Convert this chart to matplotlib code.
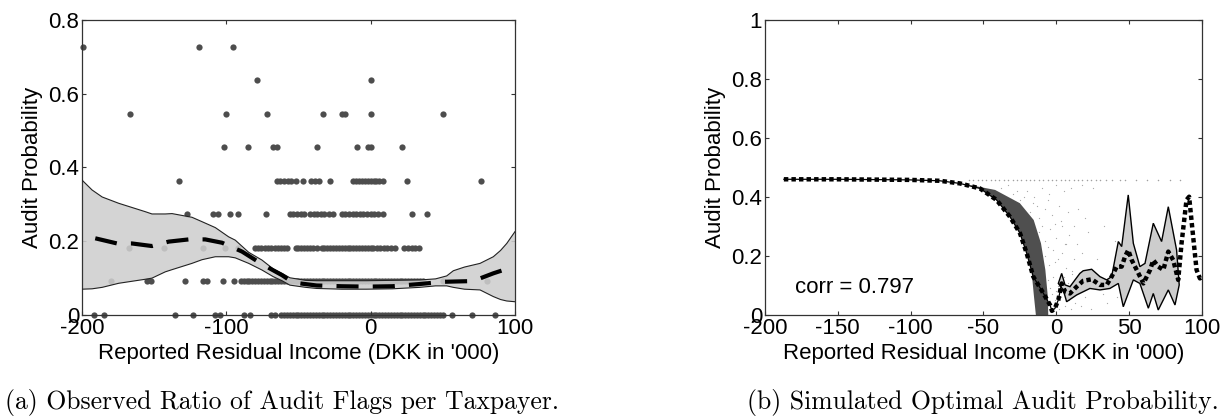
import matplotlib
matplotlib.use("Agg")
import matplotlib.pyplot as plt
import numpy as np

plt.rcParams['font.family'] = ['Liberation Sans', 'DejaVu Sans']
plt.rcParams['axes.unicode_minus'] = False

# ---- panel (a): observed audit-flag ratios, one list per level k/11 ----
row0 = [-191.5, -184.5, -135.6, -122.9, -107.8, -104.4, -88, -83.6, -69, -66, -62,
        -60, -58, -56, -54, -52, -50, -48, -46, -44, -42, -40, -38, -36, -34, -32, -30,
        -28, -26, -24, -22, -20, -18, -16, -14, -12, -10, -8, -6, -4, -2, 0, 2, 4, 6, 8,
        10, 12, 14, 16, 18, 20, 22, 24, 26, 28, 30, 32, 34, 36, 38, 40, 42, 44, 46, 48,
        50, 56.5, 70, 86.5]
row1 = [-179.7, -155, -152.5, -128.4, -116, -113.6, -102.5, -95,
        -90, -88, -86, -84, -82, -80, -78, -76, -74, -72, -70, -68, -66, -64, -62, -60,
        -58, -56, -54, -52, -50, -48, -46, -44, -42, -40, -38, -36, -34, -32, -30, -28,
        -26, -24, -22, -20, -18, -16, -14, -12, -10, -8, -6, -4, -2, 0, 2, 4, 6, 8, 10,
        12, 14, 16, 18, 20, 22, 24, 26, 28, 30, 32, 34, 36, 50, 80.4]
row2 = [-167.7, -143.4, -116.4, -100.7, -92,
        -80, -78, -76, -73, -71, -69, -66, -64, -62, -60, -58,
        -52, -50, -48, -46, -44, -42, -40, -37.5,
        -34, -32, -30, -28, -26, -24, -22, -20, -18, -16, -14, -12, -10, -8, -6, -4, -2, 0, 1.8,
        4.2, 6.5, 9, 11.5, 14, 17, 23.4, 26, 28.5, 31, 33.8]
row3 = [-127.3, -109, -105.5, -97.3, -92, -72.5,
        -56, -53.5, -51, -48.5, -46, -42, -39.5, -37, -34.5, -32, -29, -26,
        -20, -17.5, -15, -12.5, -10, -7.5, -5, -2.5, 0, 2.5, 5, 8.7, 28.8, 39.2]
row4 = [-133, -65, -62.5, -60, -57.5, -55, -52, -46.6, -41, -38.5, -36, -28,
        -12, -10, -8, -6, -4, -2, 0, 2, 4, 6, 8.7, 25.4, 76.5]
row5 = [-101.8, -85, -67.5, -65, -37, -9.3, -2, 0, 22]
row6 = [-166.5, -100.2, -72, -33.2, -19.5, -18, 0, 50]
row7 = [-78.8, 0]
row8 = [-199.5, -119, -95.6]
rows = [row0, row1, row2, row3, row4, row5, row6, row7, row8]

band_x = [-200, -193, -186, -174.6, -156, -151.5, -142.3, -137.6, -123.8, -116.8,
          -107.6, -98.4, -93.8, -84.5, -75.3, -67.5, -61.4, -56, -45, -37.4, -20, -2.8,
          15, 34, 45, 52.7, 57.3, 65, 75.8, 85, 90, 94.3, 100]
band_hi = [0.366, 0.339, 0.320, 0.303, 0.280, 0.274, 0.274, 0.275, 0.265, 0.253,
           0.237, 0.212, 0.203, 0.170, 0.149, 0.125, 0.113, 0.101, 0.094, 0.093, 0.093,
           0.093, 0.094, 0.095, 0.098, 0.106, 0.120, 0.130, 0.140, 0.158, 0.175, 0.194, 0.226]
band_lo = [0.070, 0.071, 0.075, 0.086, 0.097, 0.100, 0.117, 0.123, 0.140, 0.150,
           0.158, 0.158, 0.155, 0.140, 0.122, 0.104, 0.093, 0.081, 0.075, 0.072, 0.070,
           0.070, 0.071, 0.075, 0.079, 0.079, 0.075, 0.070, 0.068, 0.050, 0.042, 0.038, 0.036]
mean_x = [-190.8, -175.7, -165.4, -151.5, -139.9, -126, -114.6, -103, -89.1, -75.3,
          -61.4, -53.6, -37.4, -20, -2.8, 15, 34, 50.3, 60, 71, 85, 99]
mean_y = [0.208, 0.194, 0.194, 0.187, 0.199, 0.205, 0.205, 0.196, 0.172, 0.138,
          0.108, 0.088, 0.080, 0.078, 0.077, 0.078, 0.084, 0.090, 0.091, 0.092, 0.113, 0.131]

# ---- panel (b): simulated optimal audit probability ----
opt_x = [-187, -150, -100.5, -80, -66.1, -52.4, -41, -31.8, -24.9, -20.3, -15.8, -8.9,
         -4.3, -3, -1, 1.4, 3.7, 6, 9.4, 14, 18.5, 24.3, 30, 34.6, 38, 41.5, 44.9, 47.2,
         49.4, 51.8, 55.2, 59.8, 64.4, 66.6, 70, 73.5, 76.9, 80.3, 83.7, 86, 89.4, 91.2,
         93.5, 96.3, 98.6, 100]
opt_y = [0.46, 0.46, 0.458, 0.455, 0.446, 0.429, 0.39, 0.333, 0.277, 0.209, 0.130, 0.074,
         0.034, 0.014, 0.022, 0.051, 0.107, 0.079, 0.073, 0.096, 0.116, 0.121, 0.102, 0.102,
         0.130, 0.164, 0.164, 0.198, 0.220, 0.186, 0.153, 0.107, 0.153, 0.186, 0.164, 0.153,
         0.215, 0.186, 0.119, 0.243, 0.39, 0.401, 0.288, 0.153, 0.124, 0.13]

dark_x = [-62, -52.4, -41, -31.8, -24.9, -20.3, -17, -15.3, -14, -5.5, -5.8, -7.5,
          -10.5, -15.5, -25.0, -42.0, -62]
dark_y = [0.443, 0.429, 0.39, 0.333, 0.277, 0.209, 0.15, 0.062, 0.0, 0.0, 0.062, 0.153,
          0.243, 0.322, 0.379, 0.424, 0.443]

ci_x = [1.4, 3.7, 6, 9.4, 16.2, 18.5, 24.3, 30, 34.6, 38, 42.6, 44.9, 49.4, 52.9, 57.4,
        60.9, 66.6, 72.3, 76.9, 82.6, 84.4, 81.5, 76.9, 70, 66.6, 63.2, 57.4, 52.9, 46,
        42.6, 36.8, 30, 23.1, 14, 7.1, 4.8, 1.4]
ci_y = [0.107, 0.141, 0.102, 0.096, 0.141, 0.150, 0.155, 0.130, 0.119, 0.130, 0.249,
        0.232, 0.407, 0.243, 0.164, 0.175, 0.311, 0.249, 0.367, 0.220, 0.102, 0.034,
        0.085, 0.017, 0.073, 0.023, 0.107, 0.119, 0.028, 0.107, 0.090, 0.085, 0.090,
        0.068, 0.045, 0.085, 0.107]

sim_x = [-38, -30, -25, -20, -15, -10, -5, 0, 5, 10, 18, 25,
         -18, -12, -8, -3, 2, 8, 15,
         -12, -8, -4, 0, 4, 9, 14, 22,
         -8, -5, -2, 1, 4, 7, 12, 18, 28,
         -6, -4, -2, 1, 3, 5, 8, 11, 15, 20, 26, 32,
         -5, -1, 2, 6, 10, 13, 17, 24, 35, 42, 33, 40, 45,
         -33, -27, -22, -16, -13, -6, -1, 3, 7, 12, 20,
         -10, -6, -1, 6, 11, 19, -3, 0, 2, 5, 9, 16, 27, 37]
sim_y = [0.43, 0.41, 0.39, 0.42, 0.40, 0.43, 0.41, 0.44, 0.42, 0.43, 0.44, 0.43,
         0.35, 0.33, 0.36, 0.34, 0.37, 0.35, 0.36,
         0.28, 0.25, 0.29, 0.26, 0.30, 0.27, 0.24, 0.28,
         0.20, 0.17, 0.22, 0.19, 0.21, 0.16, 0.19, 0.21, 0.19,
         0.12, 0.09, 0.13, 0.10, 0.06, 0.13, 0.11, 0.14, 0.08, 0.06, 0.12, 0.07,
         0.04, 0.05, 0.02, 0.03, 0.02, 0.04, 0.03, 0.02, 0.04, 0.06, 0.30, 0.25, 0.15,
         0.44, 0.42, 0.40, 0.38, 0.37, 0.39, 0.31, 0.32, 0.24, 0.30, 0.33,
         0.30, 0.23, 0.18, 0.24, 0.15, 0.14, 0.07, 0.08, 0.10, 0.07, 0.05, 0.11, 0.09, 0.12]
top_x = [-60, -57, -54, -51, -48, -45, -42, -39, -36, -33, -30, -27, -24, -21, -18, -15,
         -12, -9, -6, -3, 0, 3, 6, 9, 12, 15, 18, 21, 24, 27, 30, 34, 38, 44, 47, 55, 62,
         70, 78, 85]
top_level = 0.458

fig = plt.figure(figsize=(12.2, 4.19), dpi=100)
axa = fig.add_axes([0.0672, 0.2482, 0.3549, 0.7041])
axb = fig.add_axes([0.6270, 0.2482, 0.3582, 0.7041])

fs = 16
for k, r in enumerate(rows):
    axa.plot(r, [k / 11] * len(r), 'o', color='#4d4d4d', ms=4.5, mec='none',
             clip_on=False, zorder=1)
axa.fill_between(band_x, band_lo, band_hi, facecolor='#cfcfcf', alpha=0.88,
                 edgecolor='none', zorder=2)
axa.plot(band_x, band_hi, color='#222222', lw=0.8, zorder=3)
axa.plot(band_x, band_lo, color='#222222', lw=0.8, zorder=3)
axa.plot(mean_x, mean_y, color='black', lw=3, linestyle=(0, (5.3, 3.4)),
         dash_capstyle='butt', zorder=4)
axa.set_xlim(-200, 100)
axa.set_ylim(0, 0.8)
axa.set_xticks([-200, -100, 0, 100])
axa.set_xticklabels(['-200', '-100', '0', '100'])
axa.set_yticks([0, 0.2, 0.4, 0.6, 0.8])
axa.set_yticklabels(['0', '0.2', '0.4', '0.6', '0.8'])

axb.scatter(sim_x, sim_y, s=0.8, color='#a8a8a8', linewidths=0, zorder=1)
axb.scatter(top_x, [top_level] * len(top_x), s=1.2, color='#a0a0a0', linewidths=0, zorder=1)
axb.fill(dark_x, dark_y, color='#4f4f4f', lw=0, zorder=2)
axb.fill(ci_x, ci_y, facecolor='#cdcdcd', edgecolor='black', lw=1, zorder=2)
axb.plot(opt_x[:17], opt_y[:17], color='black', lw=0.9, zorder=3)
axb.plot(opt_x, opt_y, color='black', lw=3.2, linestyle=(0, (1, 0.7)),
         dash_capstyle='butt', zorder=4)
axb.text(-179.5, 0.092, 'corr = 0.797', fontsize=fs, va='center', ha='left')
axb.set_xlim(-200, 100)
axb.set_ylim(0, 1)
axb.set_xticks([-200, -150, -100, -50, 0, 50, 100])
axb.set_xticklabels(['-200', '-150', '-100', '-50', '0', '50', '100'])
axb.set_yticks([0, 0.2, 0.4, 0.6, 0.8, 1])
axb.set_yticklabels(['0', '0.2', '0.4', '0.6', '0.8', '1'])

for ax in (axa, axb):
    ax.tick_params(direction='in', length=3, width=0.8, top=True, right=True,
                   labelsize=fs, pad=2, color='#333333')
    for s in ax.spines.values():
        s.set_linewidth(0.9)
        s.set_color('#333333')
    ax.set_xlabel("Reported Residual Income (DKK in '000)", fontsize=fs, labelpad=3)
    ax.set_ylabel('Audit Probability', fontsize=fs, labelpad=4)

fig.text(0.004, 0.04, '(a) Observed Ratio of Audit Flags per Taxpayer.',
         family=['cmr10', 'DejaVu Serif'], fontsize=18.5, ha='left', va='center')
fig.text(0.612, 0.04, '(b) Simulated Optimal Audit Probability.',
         family=['cmr10', 'DejaVu Serif'], fontsize=18.5, ha='left', va='center')

fig.savefig('out.png', dpi=100)
